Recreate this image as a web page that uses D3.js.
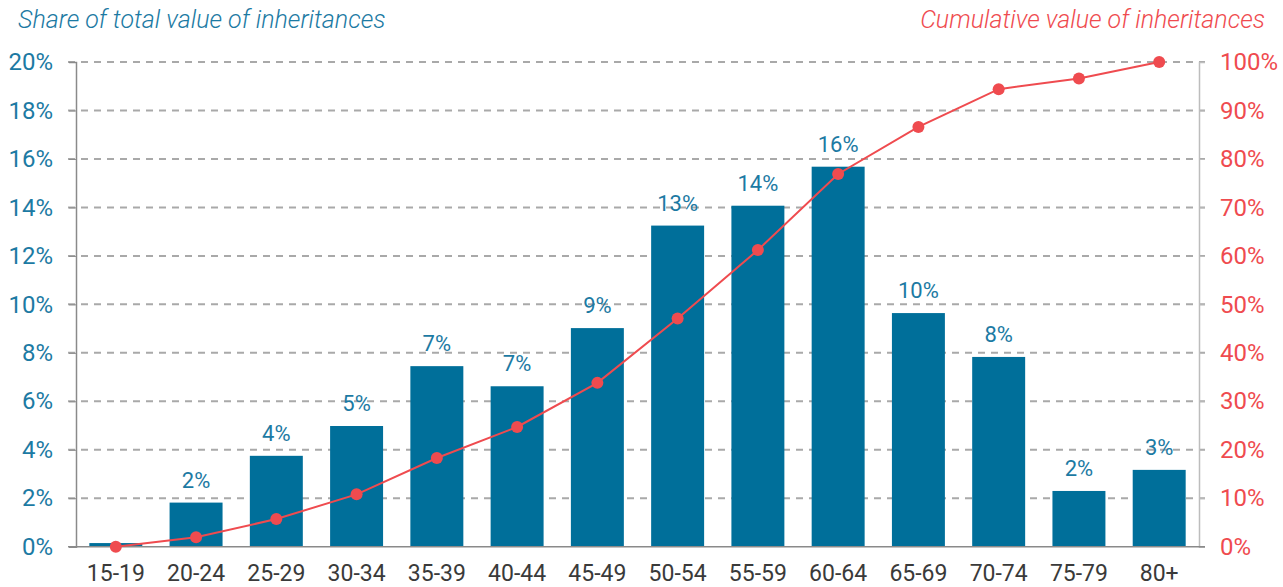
<!DOCTYPE html>
<html><head><meta charset="utf-8">
<script src="https://cdn.jsdelivr.net/npm/d3@7"></script>
<style>
body{margin:0;background:#fff;}
svg{display:block;font-family:Roboto,"Noto Sans",sans-serif;}
</style></head>
<body>
<svg id="chart" width="1283" height="587"></svg>
<script>
const categories = ["15-19","20-24","25-29","30-34","35-39","40-44","45-49","50-54","55-59","60-64","65-69","70-74","75-79","80+"];
const shareValues = [0.15,1.82,3.75,4.98,7.45,6.62,9.02,13.25,14.07,15.68,9.64,7.83,2.3,3.17];
const barLabels = ["","2%","4%","5%","7%","7%","9%","13%","14%","16%","10%","8%","2%","3%"];
const cumulativeValues = [0,1.94,5.7,10.8,18.3,24.7,33.8,47.1,61.2,76.9,86.6,94.4,96.6,100];
const leftTicks = [0,2,4,6,8,10,12,14,16,18,20];
const rightTicks = [0,10,20,30,40,50,60,70,80,90,100];

const svg = d3.select("#chart");
const L = 76, R = 1199, T = 62, B = 546.7;
const blue = "#006f9a", red = "#ef4b4f", axisBlue = "#1c7aa3";

const x = d3.scaleBand().domain(categories).range([L, R]).paddingInner(0.34).paddingOuter(0.166);
const yL = d3.scaleLinear().domain([0,20]).range([B, T]);
const yR = d3.scaleLinear().domain([0,100]).range([B, T]);

// gridlines
svg.append("g").selectAll("line").data(leftTicks.filter(d=>d>0)).join("line")
  .attr("x1", 68).attr("x2", 1205).attr("y1", d=>yL(d)).attr("y2", d=>yL(d))
  .attr("stroke", "#a9a9a9").attr("stroke-width", 2).attr("stroke-dasharray", "7,6");

// left axis
const gL = svg.append("g").attr("transform", `translate(${L},0)`)
  .call(d3.axisLeft(yL).tickValues(leftTicks).tickFormat(d=>d+"%").tickSize(7).tickPadding(16));
gL.select(".domain").attr("stroke", "#8a8a8a").attr("stroke-width", 1.5);
gL.selectAll(".tick line").attr("stroke", "#8a8a8a");
gL.selectAll("text").attr("fill", axisBlue).attr("font-size", 24).attr("font-weight", 400).attr("font-family", "Roboto");

// right axis
const gR = svg.append("g").attr("transform", `translate(${R},0)`)
  .call(d3.axisRight(yR).tickValues(rightTicks).tickFormat(d=>d+"%").tickSize(6).tickPadding(15));
gR.select(".domain").attr("stroke", "#bdbdbd").attr("stroke-width", 1.5);
gR.selectAll(".tick line").attr("stroke", "#bdbdbd");
gR.selectAll("text").attr("fill", red).attr("font-size", 24).attr("font-weight", 400).attr("font-family", "Roboto");

// bars
svg.append("g").selectAll("rect").data(categories).join("rect")
  .attr("x", d=>x(d)).attr("width", x.bandwidth())
  .attr("y", (d,i)=>yL(shareValues[i])).attr("height", (d,i)=>B - yL(shareValues[i]))
  .attr("fill", blue);

// bottom axis
const gB = svg.append("g").attr("transform", `translate(0,${B})`)
  .call(d3.axisBottom(x).tickSize(0));
gB.select(".domain").remove();
svg.append("line").attr("x1", 68).attr("x2", 1205).attr("y1", B).attr("y2", B)
  .attr("stroke", "#8a8a8a").attr("stroke-width", 1.5);
gB.selectAll("text").attr("fill", "#3a3a3a").attr("font-size", 23).attr("font-weight", 400).attr("font-family", "Roboto")
  .attr("y", 34).attr("dy", 0);

// bar labels
svg.append("g").selectAll("text").data(categories).join("text")
  .attr("x", d=>x(d)+x.bandwidth()/2).attr("y", (d,i)=>yL(shareValues[i]) - 15)
  .attr("text-anchor", "middle").attr("fill", axisBlue).attr("font-size", 22).attr("font-weight", 400)
  .text((d,i)=>barLabels[i]);

// cumulative line
const line = d3.line().x((d,i)=>x(categories[i])+x.bandwidth()/2).y(d=>yR(d));
svg.append("path").datum(cumulativeValues).attr("d", line)
  .attr("fill", "none").attr("stroke", red).attr("stroke-width", 2);
svg.append("g").selectAll("circle").data(cumulativeValues).join("circle")
  .attr("cx", (d,i)=>x(categories[i])+x.bandwidth()/2).attr("cy", d=>yR(d)).attr("r", 6)
  .attr("fill", red);

// titles
svg.append("text").attr("x", 18).attr("y", 28).attr("fill", axisBlue)
  .attr("font-size", 25).attr("font-style", "italic").attr("font-weight", 300)
  .text("Share of total value of inheritances");
svg.append("text").attr("x", 1265).attr("y", 28).attr("text-anchor", "end").attr("fill", red)
  .attr("font-size", 25).attr("font-style", "italic").attr("font-weight", 300)
  .text("Cumulative value of inheritances");
</script>
</body></html>
